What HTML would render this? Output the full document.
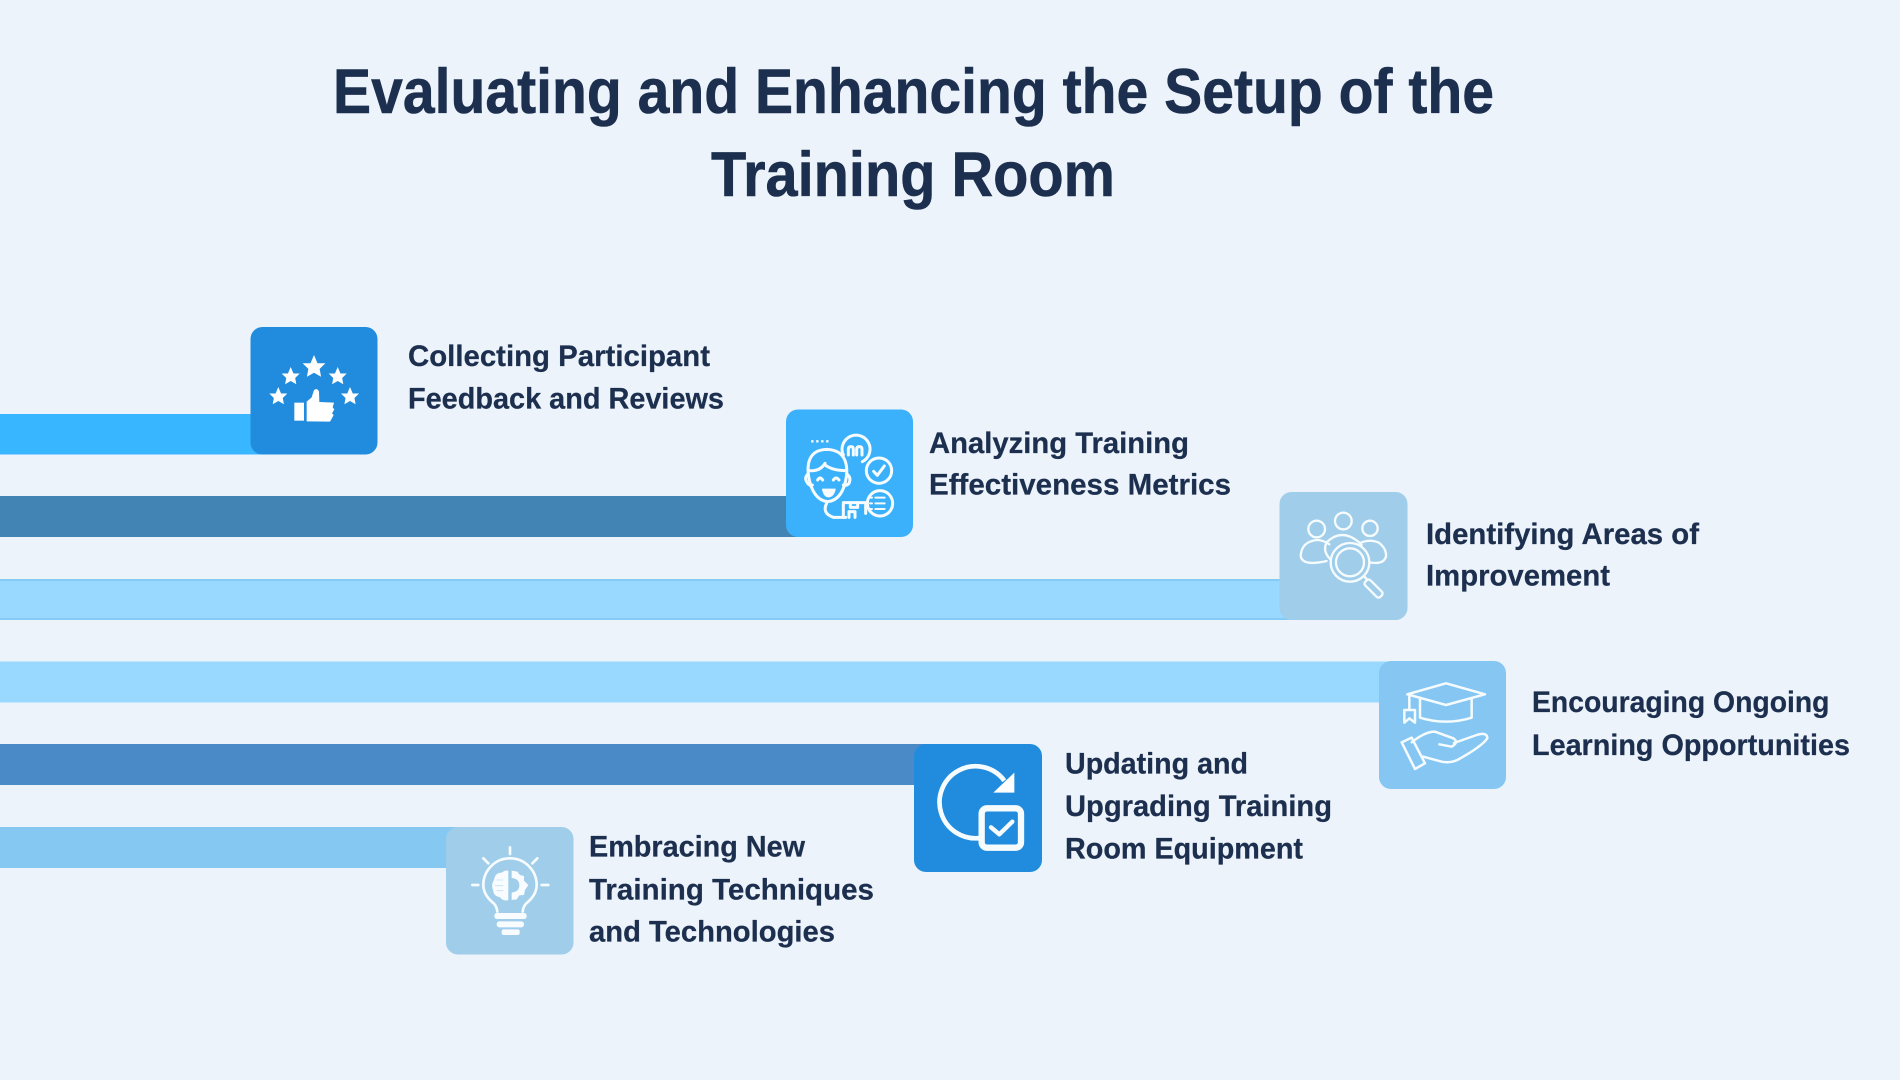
<!DOCTYPE html>
<html lang="en"><head><meta charset="utf-8"><title>Evaluating and Enhancing the Setup of the Training Room</title>
<style>
html,body{margin:0;padding:0;background:#edf3fb;width:1900px;height:1080px;overflow:hidden}
svg{display:block}
text{font-family:"Liberation Sans",sans-serif;font-weight:700;fill:#1c2f4e;stroke:#1c2f4e;stroke-width:.25px}
.t{font-size:63px;stroke-width:.6px}
.l{font-size:29.500px}
.s{fill:none;stroke:#f6fbfe;stroke-linecap:round;stroke-linejoin:round}
.f{fill:#f8fcff}
</style></head><body>
<svg width="1900" height="1080" viewBox="0 0 1900 1080" xmlns="http://www.w3.org/2000/svg">
<defs>
<polygon id="star" points="0,-10 2.9,-3.1 9.5,-3.1 4.7,1.6 5.9,8.1 0,4.8 -5.9,8.1 -4.7,1.6 -9.5,-3.1 -2.9,-3.1"/>
</defs>
<rect width="1900" height="1080" fill="#edf3fb"/>

<!-- Bars -->
<rect x="0" y="414" width="270" height="40.500" fill="#38b6ff"/>
<rect x="0" y="496" width="820" height="41" fill="#4285b4"/>
<rect x="0" y="579" width="1300" height="41" fill="#86caf6"/>
<rect x="0" y="581" width="1300" height="37" fill="#99d9ff"/>
<rect x="0" y="661.500" width="1400" height="41" fill="#99d9ff"/>
<rect x="0" y="744" width="930" height="41" fill="#4a8ac6"/>
<rect x="0" y="827" width="460" height="41" fill="#85c9f2"/>

<!-- Boxes -->
<rect x="250.500" y="327" width="127" height="127.500" rx="12" fill="#218cdd"/>
<rect x="786" y="409.500" width="127" height="127.500" rx="12" fill="#3bb1fb"/>
<rect x="1279.500" y="492" width="128" height="128" rx="12" fill="#9fcdea"/>
<rect x="1379" y="661" width="127" height="128" rx="12" fill="#85c7f2"/>
<rect x="914" y="744" width="128" height="128" rx="12" fill="#218cdd"/>
<rect x="446" y="827" width="127.500" height="127.500" rx="12" fill="#9fcdea"/>

<!-- Icon 1: stars and thumb -->
<g fill="#fff">
<use href="#star" transform="translate(314 367) scale(1.200)"/>
<use href="#star" transform="translate(290.700 376.500) scale(.95)"/>
<use href="#star" transform="translate(337.700 376.500) scale(.95)"/>
<use href="#star" transform="translate(278.300 396.500) scale(.95)"/>
<use href="#star" transform="translate(350 396.500) scale(.95)"/>
<g transform="translate(240 320) scale(.33333)">
<rect x="163" y="248" width="29" height="54"/>
<path d="M200 304L200 245L215 232L222 210Q232 203 237 215L238 246L282 248L278 262L283 268L276 280L281 285L274 298L270 305Z"/>
</g>
</g>

<!-- Icon 2: person and metrics -->
<g transform="translate(775 400) scale(.33333)" class="s" stroke-width="9">
<path d="M112 124h0M127 124h0M142 124h0M157 124h0" stroke-width="7" stroke-linecap="square"/>
<path d="M205 165A42 42 0 1 1 262 185"/>
<path d="M220 165V148Q220 140 228 140Q235 140 235 148V165M245 165V148Q245 140 253 140Q261 140 261 148V165"/>
<circle cx="312" cy="212" r="38"/>
<path d="M296 214L307 226L328 198"/>
<circle cx="315" cy="310" r="38"/>
<path d="M285 293h6M301 293h28M285 310h6M301 310h28M285 327h6M301 327h28" stroke-width="6"/>
<path d="M100 225Q92 150 155 148Q220 150 215 225Q205 300 158 305Q112 300 100 225Z"/>
<path d="M103 212Q135 215 150 190M150 195Q172 212 213 212"/>
<path d="M100 222Q85 232 98 250Q105 258 112 255M215 222Q230 232 222 250Q215 258 205 255"/>
<path d="M128 240Q135 228 143 240M175 240Q183 228 192 240"/>
<path class="f" d="M143 268H180Q175 290 160 290Q148 290 143 268Z" stroke-width="4"/>
<path d="M155 310Q140 340 175 352H212"/>
<path d="M205 352V308H272V340"/>
<path d="M226 308V322H248V308M222 352V335H240V352"/>
</g>

<!-- Icon 3: people and magnifier -->
<g transform="translate(1270 485) scale(.33333)" class="s" stroke-width="7">
<circle cx="140" cy="132" r="25"/>
<circle cx="220" cy="108" r="25"/>
<circle cx="300" cy="130" r="23"/>
<path d="M170 228Q95 245 92 212Q95 170 140 165Q160 165 178 178"/>
<path d="M275 172Q300 162 325 172Q350 190 348 215Q340 240 300 232"/>
<path d="M180 222Q155 195 172 170Q215 130 265 170Q272 175 275 180"/>
<circle cx="240" cy="232" r="58"/>
<circle cx="240" cy="232" r="42"/>
<path d="M281 273L293 285"/>
<rect x="0" y="-11" width="64" height="22" rx="8" transform="translate(288 288) rotate(45)"/>
</g>

<!-- Icon 4: graduation cap and hand -->
<g transform="translate(1370 655) scale(.33333)" class="s" stroke-width="7.500">
<path d="M112 118L228 85L345 118L228 150Z"/>
<path d="M150 128V188Q228 212 305 188V130"/>
<path d="M118 118V160"/>
<path d="M103 165H135V203L118 190L103 203Z"/>
<path d="M95 262L125 248L165 325L135 342Z"/>
<path d="M125 262Q165 230 195 230L250 250Q268 262 245 275L208 268"/>
<path d="M252 264L320 240Q352 230 352 250Q335 275 262 315Q240 325 215 320L160 305"/>
</g>

<!-- Icon 5: refresh and check -->
<g transform="translate(905 740) scale(.33333)" class="s" stroke-width="14">
<path d="M225 294A108 108 0 1 1 298 122" stroke-linecap="butt"/>
<polygon points="328,98 328,158 265,158" fill="#fff" stroke="none"/>
<rect x="230" y="205" width="118" height="118" rx="16" stroke-width="19"/>
<path d="M258 262L283 283L322 245" stroke-width="13"/>
</g>

<!-- Icon 6: bulb with brain and gear -->
<g transform="translate(440 820) scale(.33333)">
<g class="s" stroke-width="8">
<path d="M210 82V102M130 115L145 130M292 115L277 130M97 195H115M305 195H325"/>
<path d="M172 275Q170 255 155 245Q130 222 130 195A80 80 0 0 1 290 195Q290 222 265 245Q250 255 248 275"/>
</g>
<g class="f">
<rect x="163" y="279" width="97" height="18" rx="8"/>
<rect x="170" y="304" width="82" height="18" rx="8"/>
<rect x="185" y="328" width="54" height="17" rx="6"/>
<path d="M205 152V240Q190 245 180 232Q160 228 160 212Q152 195 162 180Q165 158 185 158Q195 150 205 152Z"/>
<path fill-rule="evenodd" d="M215 152L232 155L240 165L252 168L252 182L265 195L255 210L252 225L238 226L230 238L215 240V218Q238 215 238 196Q238 176 215 174Z"/>
</g>
<path d="M170 180H190M165 197H190M170 212H190" stroke="#c5e1f3" stroke-width="2.500" fill="none"/>
</g>

<!-- Title -->
<text class="t" x="333" y="113" textLength="1161" lengthAdjust="spacingAndGlyphs">Evaluating and Enhancing the Setup of the</text>
<text class="t" x="711" y="196" textLength="404" lengthAdjust="spacingAndGlyphs">Training Room</text>

<!-- Labels -->
<text class="l" x="408" y="366" textLength="302" lengthAdjust="spacingAndGlyphs">Collecting Participant</text>
<text class="l" x="408" y="408.500" textLength="316" lengthAdjust="spacingAndGlyphs">Feedback and Reviews</text>

<text class="l" x="929" y="453" textLength="260" lengthAdjust="spacingAndGlyphs">Analyzing Training</text>
<text class="l" x="929" y="494.500" textLength="302" lengthAdjust="spacingAndGlyphs">Effectiveness Metrics</text>

<text class="l" x="1426" y="544" textLength="273" lengthAdjust="spacingAndGlyphs">Identifying Areas of</text>
<text class="l" x="1426" y="585.500" textLength="184" lengthAdjust="spacingAndGlyphs">Improvement</text>

<text class="l" x="1532" y="712" textLength="297.500" lengthAdjust="spacingAndGlyphs">Encouraging Ongoing</text>
<text class="l" x="1532" y="755" textLength="318" lengthAdjust="spacingAndGlyphs">Learning Opportunities</text>

<text class="l" x="1065" y="773.500" textLength="183" lengthAdjust="spacingAndGlyphs">Updating and</text>
<text class="l" x="1065" y="816" textLength="267" lengthAdjust="spacingAndGlyphs">Upgrading Training</text>
<text class="l" x="1065" y="858.500" textLength="238" lengthAdjust="spacingAndGlyphs">Room Equipment</text>

<text class="l" x="589" y="856.500" textLength="216" lengthAdjust="spacingAndGlyphs">Embracing New</text>
<text class="l" x="589" y="899.500" textLength="285" lengthAdjust="spacingAndGlyphs">Training Techniques</text>
<text class="l" x="589" y="941.500" textLength="246" lengthAdjust="spacingAndGlyphs">and Technologies</text>
</svg>
</body></html>
